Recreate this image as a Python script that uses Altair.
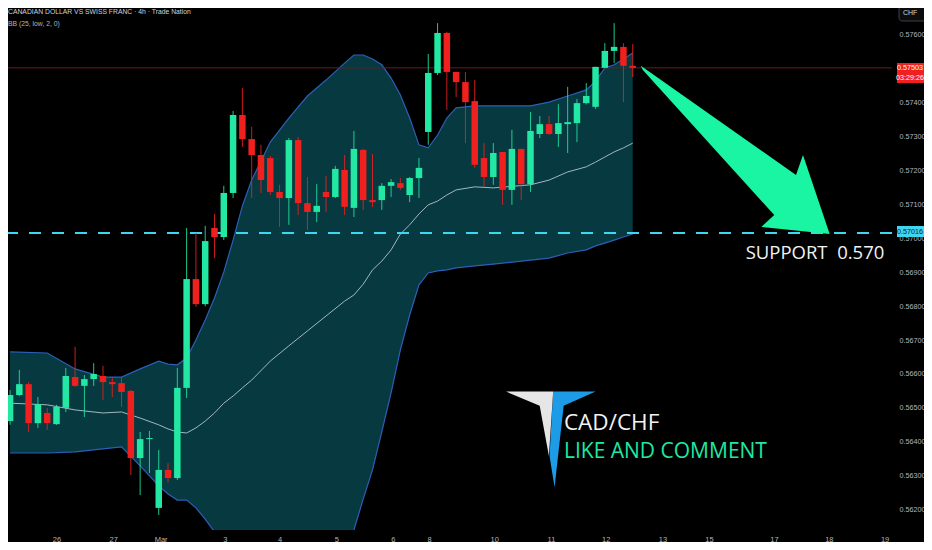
import altair as alt
import pandas as pd

# ---------------- data ----------------
c_open = [0.56461, 0.56538, 0.56570, 0.56455, 0.56485, 0.56452, 0.56500, 0.56591, 0.56565, 0.56585,
          0.56594, 0.56576, 0.56573, 0.56550, 0.56352, 0.56408, 0.56205, 0.56317, 0.56293, 0.56559,
          0.56880, 0.56806, 0.57031, 0.57004, 0.57134, 0.57364, 0.57293, 0.57246, 0.57237, 0.57137,
          0.57119, 0.57290, 0.57104, 0.57078, 0.57137, 0.57122, 0.57202, 0.57090, 0.57261, 0.57113,
          0.57113, 0.57155, 0.57163, 0.57128, 0.57178, 0.57314, 0.57488, 0.57606, 0.57491, 0.57461,
          0.57405, 0.57237, 0.57181, 0.57255, 0.57143, 0.57264, 0.57160, 0.57308, 0.57337, 0.57308,
          0.57337, 0.57340, 0.57399, 0.57388, 0.57503, 0.57553, 0.57565, 0.57509]
c_high = [0.56553, 0.56612, 0.56576, 0.56532, 0.56500, 0.56509, 0.56618, 0.56680, 0.56597, 0.56632,
          0.56624, 0.56591, 0.56591, 0.56553, 0.56429, 0.56432, 0.56376, 0.56337, 0.56618, 0.57031,
          0.57016, 0.57037, 0.57072, 0.57155, 0.57376, 0.57444, 0.57329, 0.57276, 0.57243, 0.57158,
          0.57296, 0.57299, 0.57181, 0.57160, 0.57184, 0.57214, 0.57246, 0.57317, 0.57264, 0.57249,
          0.57163, 0.57175, 0.57178, 0.57181, 0.57237, 0.57544, 0.57635, 0.57609, 0.57491, 0.57491,
          0.57467, 0.57281, 0.57281, 0.57255, 0.57320, 0.57264, 0.57373, 0.57361, 0.57361, 0.57396,
          0.57447, 0.57411, 0.57458, 0.57506, 0.57576, 0.57635, 0.57576, 0.57573]
c_low = [0.56450, 0.56535, 0.56429, 0.56441, 0.56435, 0.56450, 0.56488, 0.56562, 0.56473, 0.56565,
         0.56523, 0.56532, 0.56503, 0.56302, 0.56243, 0.56308, 0.56184, 0.56281, 0.56287, 0.56529,
         0.56798, 0.56800, 0.56942, 0.56995, 0.57119, 0.57270, 0.57119, 0.57134, 0.57128, 0.57034,
         0.57040, 0.57069, 0.57025, 0.57048, 0.57078, 0.57119, 0.57069, 0.57063, 0.57084, 0.57093,
         0.57084, 0.57122, 0.57143, 0.57107, 0.57119, 0.57276, 0.57482, 0.57379, 0.57417, 0.57281,
         0.57208, 0.57152, 0.57158, 0.57099, 0.57099, 0.57113, 0.57137, 0.57296, 0.57305, 0.57270,
         0.57252, 0.57284, 0.57395, 0.57382, 0.57503, 0.57517, 0.57402, 0.57476]
c_close = [0.56538, 0.56570, 0.56455, 0.56511, 0.56455, 0.56503, 0.56594, 0.56565, 0.56585, 0.56600,
           0.56576, 0.56570, 0.56547, 0.56352, 0.56408, 0.56411, 0.56317, 0.56293, 0.56559, 0.56880,
           0.56806, 0.56992, 0.57004, 0.57134, 0.57364, 0.57293, 0.57246, 0.57172, 0.57137, 0.57119,
           0.57290, 0.57104, 0.57078, 0.57096, 0.57122, 0.57205, 0.57093, 0.57264, 0.57113, 0.57107,
           0.57155, 0.57166, 0.57149, 0.57178, 0.57208, 0.57488, 0.57606, 0.57491, 0.57461, 0.57402,
           0.57217, 0.57181, 0.57252, 0.57143, 0.57264, 0.57160, 0.57317, 0.57337, 0.57308, 0.57340,
           0.57343, 0.57399, 0.57420, 0.57506, 0.57553, 0.57565, 0.57509, 0.57503]

band_idx = [0, 4, 7, 10, 12, 14, 16, 17, 18, 19, 20, 21, 22, 23, 24, 25, 26, 28, 30, 32, 34, 36, 37,
            38, 39, 40, 41, 42, 43, 44, 45, 46, 47, 48, 50, 52, 56, 58, 60, 62, 63, 64, 65, 66, 67]
band_upper = [0.56665, 0.56662, 0.56615, 0.56591, 0.56591, 0.56615, 0.56638, 0.56629, 0.56627, 0.56647,
              0.56700, 0.56759, 0.56824, 0.56901, 0.56995, 0.57096, 0.57172, 0.57284, 0.57355, 0.57420,
              0.57467, 0.57517, 0.57541, 0.57541, 0.57529, 0.57512, 0.57473, 0.57423, 0.57355, 0.57276,
              0.57267, 0.57305, 0.57355, 0.57385, 0.57391, 0.57391, 0.57391, 0.57402, 0.57420, 0.57438,
              0.57464, 0.57503, 0.57512, 0.57529, 0.57547]
band_basis = [0.56514, 0.56509, 0.56494, 0.56485, 0.56488, 0.56470, 0.56450, 0.56438, 0.56429, 0.56426,
              0.56441, 0.56461, 0.56485, 0.56514, 0.56535, 0.56559, 0.56582, 0.56638, 0.56683, 0.56727,
              0.56771, 0.56815, 0.56833, 0.56865, 0.56907, 0.56933, 0.56966, 0.57013, 0.57040, 0.57072,
              0.57099, 0.57110, 0.57128, 0.57143, 0.57152, 0.57149, 0.57158, 0.57172, 0.57196, 0.57211,
              0.57225, 0.57240, 0.57255, 0.57267, 0.57281]
band_lower = [0.56367, 0.56367, 0.56370, 0.56379, 0.56385, 0.56329, 0.56270, 0.56246, 0.56228, 0.56228,
              0.56205, 0.56172, 0.56134, 0.56096, 0.56072, 0.56057, 0.56045, 0.56034, 0.56028, 0.56028,
              0.56045, 0.56081, 0.56140, 0.56231, 0.56317, 0.56429, 0.56544, 0.56671, 0.56774, 0.56863,
              0.56898, 0.56904, 0.56907, 0.56913, 0.56919, 0.56924, 0.56936, 0.56942, 0.56957, 0.56966,
              0.56978, 0.56986, 0.56995, 0.57004, 0.57013]

tick_pos = [5.0, 11.1, 16.2, 23.1, 29.0, 35.1, 41.2, 45.1, 52.1, 58.2, 64.1, 70.2, 75.2, 82.2, 88.1, 94.1]
tick_labels = ["26", "27", "Mar", "3", "4", "5", "6", "8", "10", "11", "12", "13", "15", "17", "18", "19"]
# 0.57500 is hidden behind the last-price box in the reference
price_ticks = [0.562, 0.563, 0.564, 0.565, 0.566, 0.567, 0.568, 0.569, 0.570, 0.571, 0.572,
               0.573, 0.574, 0.576]

last_price = 0.57503
last_time = "03:29:26"
support_price = 0.57016

arrow_x = [67.87, 84.57, 85.32, 88.19, 80.85, 82.23, 68.09]
arrow_y = [0.57509, 0.57187, 0.57246, 0.57013, 0.57034, 0.57069, 0.57497]

logo_white_x = [53.37, 58.44, 57.98, 56.99]
logo_white_y = [0.56548, 0.56548, 0.56358, 0.56506]
logo_blue_x = [58.44, 63.01, 59.57, 58.59, 58.05]
logo_blue_y = [0.56548, 0.56548, 0.56506, 0.56266, 0.56358]

header1 = "CANADIAN DOLLAR VS SWISS FRANC · 4h · Trade Nation"
header2 = "BB (25, low, 2, 0)"
pair_text = "CAD/CHF"
cta_text = "LIKE AND COMMENT"
support_text = "SUPPORT\u00a0 0.570"

# ---------------- styling ----------------
GREEN = "#22e8a3"
RED = "#f0201e"
ARROW = "#19f5a2"
BAND = "#063a40"
BANDLINE = "#2c5fb8"
BASIS = "#a3b6c0"
CYAN = "#3fd6ef"
AXIS_TXT = "#b2b5be"
SMALL = "Liberation Sans, Arial, sans-serif"
SANS = "Open Sans, Noto Sans, sans-serif"

W, H = 884, 522
xs = alt.Scale(domain=[0.319, 94.36], nice=False, zero=False)
ys = alt.Scale(domain=[0.561398, 0.576796], nice=False, zero=False)

label_expr = ("[" + ",".join("'%s'" % t for t in tick_labels) + "][indexof(["
              + ",".join(str(p) for p in tick_pos) + "], datum.value)]")

x_axis = alt.Axis(values=tick_pos, labelExpr=label_expr, orient="bottom", domain=False, ticks=False,
                  grid=False, labelColor=AXIS_TXT, labelFontSize=7.5, labelFont=SMALL,
                  labelPadding=5, labelFlush=False, labelOverlap=False, title=None)
y_axis = alt.Axis(values=price_ticks, format=".5f", orient="right", domain=False, ticks=False,
                  grid=False, labelColor=AXIS_TXT, labelFontSize=7.2, labelFont=SMALL,
                  labelPadding=7, labelOverlap=False, title=None)


def X(field):
    return alt.X(field, scale=xs, axis=x_axis)


def Y(field):
    return alt.Y(field, scale=ys, axis=y_axis)


candles = pd.DataFrame({"i": list(range(len(c_open))), "open": c_open, "high": c_high,
                        "low": c_low, "close": c_close})
bands = pd.DataFrame({"i": band_idx, "upper": band_upper, "basis": band_basis, "lower": band_lower})

up_color = alt.condition("datum.close >= datum.open", alt.value(GREEN), alt.value(RED))

area = alt.Chart(bands).mark_area(color=BAND, clip=True).encode(
    x=X("i:Q"), y=Y("upper:Q"), y2="lower:Q")
upper_line = alt.Chart(bands).mark_line(color=BANDLINE, strokeWidth=1.2, clip=True).encode(
    x=X("i:Q"), y=Y("upper:Q"))
lower_line = alt.Chart(bands).mark_line(color=BANDLINE, strokeWidth=1.2, clip=True).encode(
    x=X("i:Q"), y=Y("lower:Q"))
basis_line = alt.Chart(bands).mark_line(color=BASIS, strokeWidth=1, clip=True).encode(
    x=X("i:Q"), y=Y("basis:Q"))

last_rule = alt.Chart(pd.DataFrame({"p": [last_price]})).mark_rule(
    color="#6e1a1f", strokeWidth=1).encode(y=Y("p:Q"))
support_rule = alt.Chart(pd.DataFrame({"p": [support_price]})).mark_rule(
    color=CYAN, strokeWidth=2, strokeDash=[12, 11]).encode(y=Y("p:Q"))

wicks = alt.Chart(candles).mark_rule(strokeWidth=1, clip=True, opacity=0.85).encode(
    x=X("i:Q"), y=Y("low:Q"), y2="high:Q", color=up_color)
bodies = alt.Chart(candles).mark_bar(size=6.5, clip=True).encode(
    x=X("i:Q"), y=Y("open:Q"), y2="close:Q", color=up_color)


def polygon(xv, yv, color):
    df = pd.DataFrame({"x": xv, "y": yv, "o": list(range(len(xv)))})
    return alt.Chart(df).mark_line(filled=True, color=color, interpolate="linear-closed",
                                   strokeWidth=0.5).encode(
        x=X("x:Q"), y=Y("y:Q"), order="o:Q")


arrow = polygon(arrow_x, arrow_y, ARROW)
logo_blue = polygon(logo_blue_x, logo_blue_y, "#1e9be6")
logo_white = polygon(logo_white_x, logo_white_y, "#e6e6e6")


def data_text(xv, yv, txt, color, size, font=SANS, weight="normal"):
    df = pd.DataFrame({"x": [xv], "y": [yv], "t": [txt]})
    return alt.Chart(df).mark_text(align="left", baseline="alphabetic", color=color, fontSize=size,
                                   font=font, fontWeight=weight).encode(
        x=X("x:Q"), y=Y("y:Q"), text="t:N")


support_lbl = data_text(79.15, 0.56939, support_text, "#f2f2f2", 18.5)
pair_lbl = data_text(59.6, 0.56435, pair_text, "#f2f2f2", 22.5)
cta_lbl = data_text(59.6, 0.56352, cta_text, "#1de9a0", 21)


def px_text(txt, x, y, color, size, align="left", font=SMALL, weight="normal"):
    return alt.Chart(pd.DataFrame({"t": [txt]})).mark_text(
        align=align, baseline="middle", color=color, fontSize=size, font=font,
        fontWeight=weight).encode(text="t:N", x=alt.value(x), y=alt.value(y))


def px_rect(x, x2, y, y2, fill, stroke=None, radius=0):
    kw = dict(fill=fill, cornerRadius=radius)
    if stroke:
        kw.update(stroke=stroke, strokeWidth=1)
    return alt.Chart(pd.DataFrame({"a": [0]})).mark_rect(**kw).encode(
        x=alt.value(x), x2=alt.value(x2), y=alt.value(y), y2=alt.value(y2))


head1 = px_text(header1, 0, 4, "#d1d4dc", 6.8)
head2 = px_text(header2, 0, 16, "#b2b5be", 6.8)

red_box = px_rect(889, 922, 55, 75, "#f0201e")
red_t1 = px_text("%.5f" % last_price, 902, 60, "#ffffff", 7.2, align="center")
red_t2 = px_text(last_time, 902, 70, "#ffffff", 7.2, align="center")
cyan_box = px_rect(889, 922, 218, 229, CYAN)
cyan_t = px_text("%.5f" % support_price, 902, 223.5, "#0b1a1f", 7.2, align="center")
chf_box = px_rect(891, 921, -4, 13, "#0c0c0c", stroke="#3a3e48", radius=3)
chf_t = px_text("CHF", 895, 4.5, "#d1d4dc", 7)

chart = alt.layer(
    area, upper_line, lower_line, basis_line, last_rule, support_rule, wicks, bodies,
    arrow, logo_blue, logo_white, support_lbl, pair_lbl, cta_lbl, head1, head2,
    red_box, red_t1, red_t2, cyan_box, cyan_t, chf_box, chf_t
).properties(
    width=W, height=H,
    padding={"left": 0, "top": 0, "right": 32, "bottom": 12},
    autosize=alt.AutoSizeParams(type="none"),
    background="#000000",
).configure_view(stroke=None)

chart.save("out.html", embed_options={"renderer": "svg", "actions": False})
